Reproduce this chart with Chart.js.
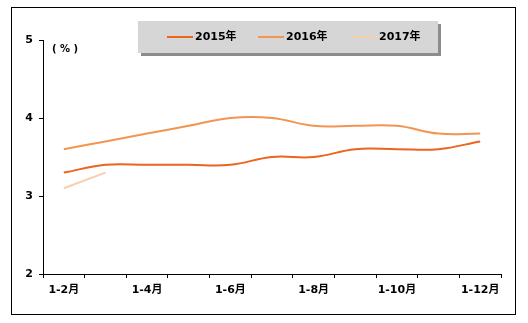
<!DOCTYPE html>
<html>
<head>
<meta charset="utf-8">
<script src="https://cdn.jsdelivr.net/npm/chart.js@4/dist/chart.umd.min.js"></script>
<style>
  html, body { margin: 0; padding: 0; background: #fff; }
  #wrap { width: 528px; height: 323px; }
</style>
</head>
<body>
<div id="wrap"><canvas id="myChart" width="528" height="323"></canvas></div>
<script>
// data
const months = ['1-2月', '1-3月', '1-4月', '1-5月', '1-6月', '1-7月', '1-8月', '1-9月', '1-10月', '1-11月', '1-12月'];
const y2015 = [3.3, 3.4, 3.4, 3.4, 3.4, 3.5, 3.5, 3.6, 3.6, 3.6, 3.7];
const y2016 = [3.6, 3.7, 3.8, 3.9, 4.0, 4.0, 3.9, 3.9, 3.9, 3.8, 3.8];
const y2017 = [3.1, 3.3];
const seriesNames = ['2015年', '2016年', '2017年'];
const seriesColors = ['#EC641E', '#F29550', '#F8CDAA'];

const FONT = '"DejaVu Sans", "Noto Sans CJK SC", sans-serif';

// frame, unit label and the grey legend box
const decor = {
    id: 'decor',
    beforeDraw(chart) {
        const ctx = chart.ctx;
        ctx.save();
        ctx.fillStyle = '#fff';
        ctx.fillRect(0, 0, chart.width, chart.height);
        ctx.strokeStyle = '#000';
        ctx.lineWidth = 1;
        ctx.strokeRect(11.5, 7.5, 504, 307);
        ctx.restore();
    },
    afterDraw(chart) {
        const ctx = chart.ctx;
        ctx.save();
        ctx.fillStyle = '#000';
        ctx.font = 'bold 10px ' + FONT;
        ctx.textBaseline = 'middle';
        ctx.fillText('( % )', 52, 49);

        // legend box with shadow
        ctx.fillStyle = '#8c8c8c';
        ctx.fillRect(141, 24, 300, 32);
        ctx.fillStyle = '#D6D6D6';
        ctx.fillRect(138, 21, 300, 32);

        const xs = [167, 258, 351];
        chart.data.datasets.forEach((ds, i) => {
            ctx.strokeStyle = ds.borderColor;
            ctx.lineWidth = 2;
            ctx.beginPath();
            ctx.moveTo(xs[i], 37);
            ctx.lineTo(xs[i] + 26, 37);
            ctx.stroke();
            ctx.fillStyle = '#000';
            ctx.font = 'bold 11px ' + FONT;
            ctx.textBaseline = 'middle';
            ctx.fillText(ds.label, xs[i] + 28, 37);
        });
        ctx.restore();
    }
};

const makeSet = (i, values) => ({
    label: seriesNames[i],
    data: values,
    borderColor: seriesColors[i],
    backgroundColor: seriesColors[i],
    borderWidth: 2,
    pointRadius: 0,
    tension: 0.4,
    fill: false
});

new Chart(document.getElementById('myChart').getContext('2d'), {
    type: 'line',
    data: {
        labels: months,
        datasets: [makeSet(0, y2015), makeSet(1, y2016), makeSet(2, y2017)]
    },
    options: {
        responsive: false,
        animation: false,
        layout: { padding: { left: 11, top: 40, right: 27, bottom: 19 } },
        plugins: { legend: { display: false }, tooltip: { enabled: false } },
        scales: {
            x: {
                offset: true,
                afterFit(scale) { scale.height = 30; },
                border: { display: true, color: '#000', width: 1 },
                grid: { offset: true, drawOnChartArea: false, drawTicks: true, tickLength: 4, color: '#000' },
                ticks: {
                    autoSkip: false,
                    maxRotation: 0,
                    padding: 6,
                    color: '#000',
                    font: { family: FONT, size: 11, weight: 'bold' },
                    callback(v, i) { return i % 2 === 0 ? months[i] : ''; }
                }
            },
            y: {
                min: 2,
                max: 5,
                afterFit(scale) { scale.width = 32; },
                border: { display: true, color: '#000', width: 1 },
                grid: { drawOnChartArea: false, drawTicks: true, tickLength: 4, color: '#000' },
                ticks: {
                    stepSize: 1,
                    padding: 6,
                    color: '#000',
                    font: { family: FONT, size: 11, weight: 'bold' }
                }
            }
        }
    },
    plugins: [decor]
});
</script>
</body>
</html>
